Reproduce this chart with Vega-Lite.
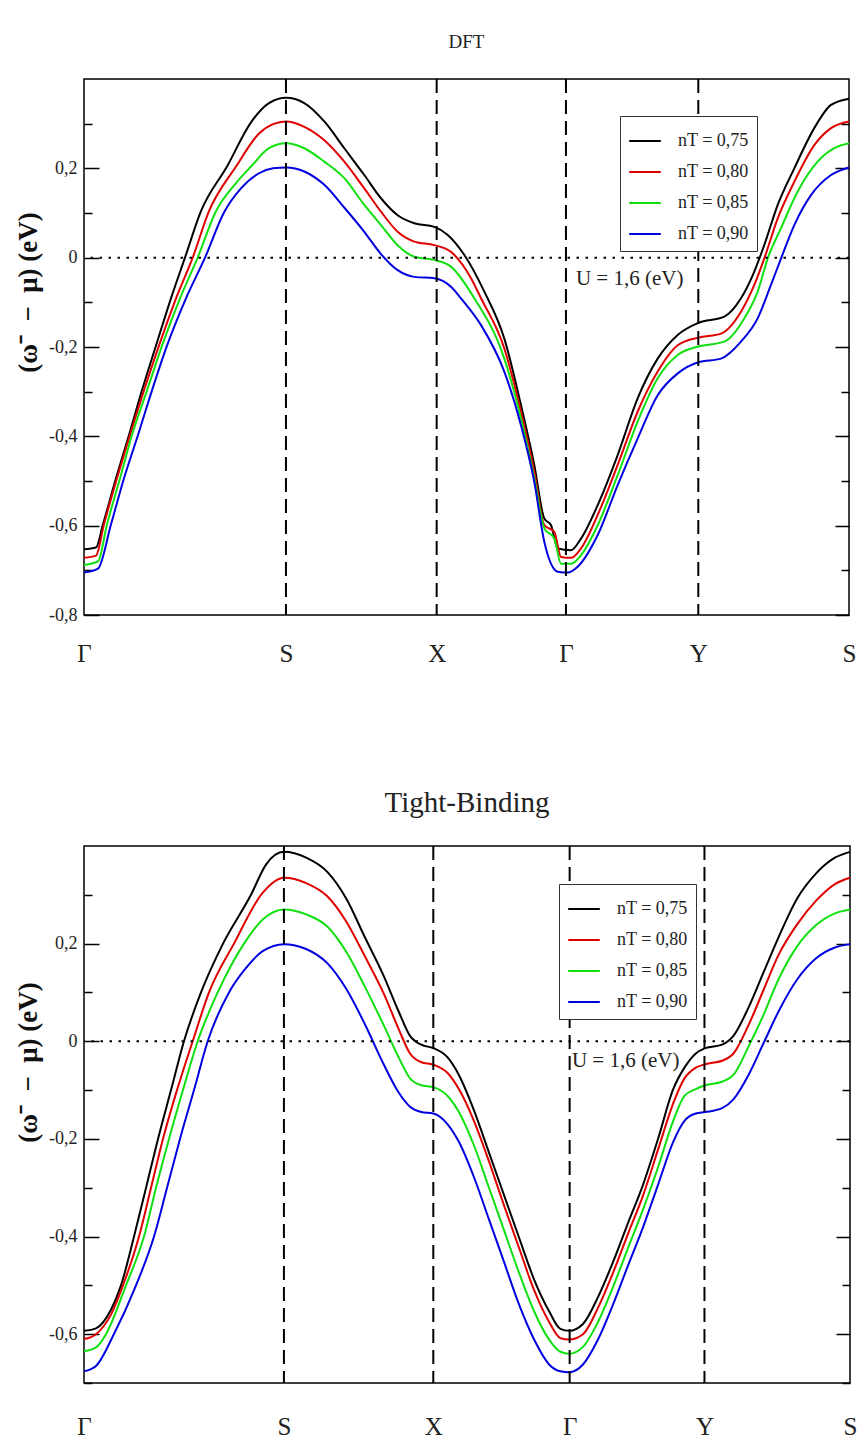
{
"$schema": "https://vega.github.io/schema/vega-lite/v6.json",
"background": "white",
"padding": {"left": 13, "top": 32, "right": 8, "bottom": 0},
"spacing": 121,
"resolve": {"scale": {"color": "independent"}, "legend": {"color": "independent"}},
"config": {
  "font": "Liberation Serif",
  "view": {"stroke": "black", "strokeWidth": 1.5},
  "axis": {"labelFont": "Liberation Serif", "titleFont": "Liberation Serif", "labelColor": "#222", "grid": false, "domain": false},
  "title": {"font": "Liberation Serif", "fontWeight": "normal", "color": "#222", "anchor": "middle"},
  "legend": {"orient": "none", "direction": "vertical", "symbolType": "stroke", "symbolSize": 1000, "symbolStrokeWidth": 2, "labelFont": "Liberation Serif", "labelFontSize": 18, "labelColor": "#222", "strokeColor": "#333", "fillColor": "white", "padding": 8, "rowPadding": 5, "labelOffset": 16}
},
"datasets": {
"curves": [
{"p":"D","n":"0,75","x":0,"y":-0.653},{"p":"D","n":"0,75","x":0.0157,"y":-0.649},{"p":"D","n":"0,75","x":0.0248,"y":-0.597},{"p":"D","n":"0,75","x":0.0418,"y":-0.494},{"p":"D","n":"0,75","x":0.0588,"y":-0.397},{"p":"D","n":"0,75","x":0.0758,"y":-0.297},{"p":"D","n":"0,75","x":0.0941,"y":-0.197},{"p":"D","n":"0,75","x":0.1137,"y":-0.091},{"p":"D","n":"0,75","x":0.132,"y":0},{"p":"D","n":"0,75","x":0.1529,"y":0.104},{"p":"D","n":"0,75","x":0.1869,"y":0.204},{"p":"D","n":"0,75","x":0.2183,"y":0.303},{"p":"D","n":"0,75","x":0.2418,"y":0.346},{"p":"D","n":"0,75","x":0.2641,"y":0.358},{"p":"D","n":"0,75","x":0.288,"y":0.346},{"p":"D","n":"0,75","x":0.3141,"y":0.305},{"p":"D","n":"0,75","x":0.3403,"y":0.245},{"p":"D","n":"0,75","x":0.3664,"y":0.185},{"p":"D","n":"0,75","x":0.3882,"y":0.133},{"p":"D","n":"0,75","x":0.41,"y":0.095},{"p":"D","n":"0,75","x":0.4318,"y":0.077},{"p":"D","n":"0,75","x":0.458,"y":0.069},{"p":"D","n":"0,75","x":0.4755,"y":0.051},{"p":"D","n":"0,75","x":0.4972,"y":0.006},{"p":"D","n":"0,75","x":0.5233,"y":-0.076},{"p":"D","n":"0,75","x":0.5494,"y":-0.181},{"p":"D","n":"0,75","x":0.5712,"y":-0.33},{"p":"D","n":"0,75","x":0.5886,"y":-0.464},{"p":"D","n":"0,75","x":0.6017,"y":-0.584},{"p":"D","n":"0,75","x":0.6105,"y":-0.599},{"p":"D","n":"0,75","x":0.6192,"y":-0.651},{"p":"D","n":"0,75","x":0.6366,"y":-0.655},{"p":"D","n":"0,75","x":0.6497,"y":-0.629},{"p":"D","n":"0,75","x":0.6715,"y":-0.554},{"p":"D","n":"0,75","x":0.6976,"y":-0.442},{"p":"D","n":"0,75","x":0.7237,"y":-0.315},{"p":"D","n":"0,75","x":0.7499,"y":-0.226},{"p":"D","n":"0,75","x":0.7761,"y":-0.173},{"p":"D","n":"0,75","x":0.803,"y":-0.146},{"p":"D","n":"0,75","x":0.837,"y":-0.132},{"p":"D","n":"0,75","x":0.8588,"y":-0.091},{"p":"D","n":"0,75","x":0.8762,"y":-0.031},{"p":"D","n":"0,75","x":0.8892,"y":0.028},{"p":"D","n":"0,75","x":0.9068,"y":0.118},{"p":"D","n":"0,75","x":0.9285,"y":0.2},{"p":"D","n":"0,75","x":0.9546,"y":0.29},{"p":"D","n":"0,75","x":0.9765,"y":0.342},{"p":"D","n":"0,75","x":1,"y":0.356},
{"p":"D","n":"0,80","x":0,"y":-0.672},{"p":"D","n":"0,80","x":0.0157,"y":-0.667},{"p":"D","n":"0,80","x":0.0261,"y":-0.597},{"p":"D","n":"0,80","x":0.0431,"y":-0.494},{"p":"D","n":"0,80","x":0.0601,"y":-0.397},{"p":"D","n":"0,80","x":0.0784,"y":-0.297},{"p":"D","n":"0,80","x":0.098,"y":-0.197},{"p":"D","n":"0,80","x":0.1203,"y":-0.091},{"p":"D","n":"0,80","x":0.1421,"y":0},{"p":"D","n":"0,80","x":0.1634,"y":0.104},{"p":"D","n":"0,80","x":0.1987,"y":0.204},{"p":"D","n":"0,80","x":0.2288,"y":0.278},{"p":"D","n":"0,80","x":0.2471,"y":0.299},{"p":"D","n":"0,80","x":0.2641,"y":0.305},{"p":"D","n":"0,80","x":0.288,"y":0.293},{"p":"D","n":"0,80","x":0.3141,"y":0.263},{"p":"D","n":"0,80","x":0.3403,"y":0.215},{"p":"D","n":"0,80","x":0.3664,"y":0.155},{"p":"D","n":"0,80","x":0.3882,"y":0.103},{"p":"D","n":"0,80","x":0.41,"y":0.058},{"p":"D","n":"0,80","x":0.4318,"y":0.036},{"p":"D","n":"0,80","x":0.458,"y":0.028},{"p":"D","n":"0,80","x":0.4797,"y":0.013},{"p":"D","n":"0,80","x":0.5059,"y":-0.046},{"p":"D","n":"0,80","x":0.519,"y":-0.091},{"p":"D","n":"0,80","x":0.5494,"y":-0.203},{"p":"D","n":"0,80","x":0.5712,"y":-0.345},{"p":"D","n":"0,80","x":0.5886,"y":-0.479},{"p":"D","n":"0,80","x":0.6017,"y":-0.599},{"p":"D","n":"0,80","x":0.6148,"y":-0.614},{"p":"D","n":"0,80","x":0.6235,"y":-0.67},{"p":"D","n":"0,80","x":0.6366,"y":-0.672},{"p":"D","n":"0,80","x":0.6497,"y":-0.651},{"p":"D","n":"0,80","x":0.6715,"y":-0.576},{"p":"D","n":"0,80","x":0.6976,"y":-0.464},{"p":"D","n":"0,80","x":0.7237,"y":-0.345},{"p":"D","n":"0,80","x":0.7499,"y":-0.255},{"p":"D","n":"0,80","x":0.7761,"y":-0.196},{"p":"D","n":"0,80","x":0.803,"y":-0.179},{"p":"D","n":"0,80","x":0.8327,"y":-0.17},{"p":"D","n":"0,80","x":0.8588,"y":-0.121},{"p":"D","n":"0,80","x":0.8762,"y":-0.061},{"p":"D","n":"0,80","x":0.8892,"y":-0.002},{"p":"D","n":"0,80","x":0.9068,"y":0.088},{"p":"D","n":"0,80","x":0.9285,"y":0.17},{"p":"D","n":"0,80","x":0.9546,"y":0.252},{"p":"D","n":"0,80","x":0.9765,"y":0.29},{"p":"D","n":"0,80","x":1,"y":0.305},
{"p":"D","n":"0,85","x":0,"y":-0.688},{"p":"D","n":"0,85","x":0.0183,"y":-0.68},{"p":"D","n":"0,85","x":0.0301,"y":-0.597},{"p":"D","n":"0,85","x":0.0471,"y":-0.494},{"p":"D","n":"0,85","x":0.0627,"y":-0.397},{"p":"D","n":"0,85","x":0.0824,"y":-0.297},{"p":"D","n":"0,85","x":0.102,"y":-0.197},{"p":"D","n":"0,85","x":0.1255,"y":-0.091},{"p":"D","n":"0,85","x":0.1486,"y":0},{"p":"D","n":"0,85","x":0.1725,"y":0.104},{"p":"D","n":"0,85","x":0.1987,"y":0.167},{"p":"D","n":"0,85","x":0.2183,"y":0.204},{"p":"D","n":"0,85","x":0.2418,"y":0.245},{"p":"D","n":"0,85","x":0.2641,"y":0.256},{"p":"D","n":"0,85","x":0.288,"y":0.245},{"p":"D","n":"0,85","x":0.3141,"y":0.215},{"p":"D","n":"0,85","x":0.3403,"y":0.178},{"p":"D","n":"0,85","x":0.3664,"y":0.118},{"p":"D","n":"0,85","x":0.3882,"y":0.073},{"p":"D","n":"0,85","x":0.41,"y":0.028},{"p":"D","n":"0,85","x":0.4318,"y":0.002},{"p":"D","n":"0,85","x":0.458,"y":-0.005},{"p":"D","n":"0,85","x":0.4797,"y":-0.02},{"p":"D","n":"0,85","x":0.5102,"y":-0.091},{"p":"D","n":"0,85","x":0.5494,"y":-0.226},{"p":"D","n":"0,85","x":0.5712,"y":-0.36},{"p":"D","n":"0,85","x":0.5886,"y":-0.494},{"p":"D","n":"0,85","x":0.6017,"y":-0.606},{"p":"D","n":"0,85","x":0.6148,"y":-0.629},{"p":"D","n":"0,85","x":0.6235,"y":-0.685},{"p":"D","n":"0,85","x":0.6366,"y":-0.685},{"p":"D","n":"0,85","x":0.6497,"y":-0.666},{"p":"D","n":"0,85","x":0.6715,"y":-0.599},{"p":"D","n":"0,85","x":0.6976,"y":-0.487},{"p":"D","n":"0,85","x":0.7237,"y":-0.367},{"p":"D","n":"0,85","x":0.7499,"y":-0.27},{"p":"D","n":"0,85","x":0.7761,"y":-0.218},{"p":"D","n":"0,85","x":0.803,"y":-0.199},{"p":"D","n":"0,85","x":0.837,"y":-0.188},{"p":"D","n":"0,85","x":0.8631,"y":-0.136},{"p":"D","n":"0,85","x":0.8806,"y":-0.076},{"p":"D","n":"0,85","x":0.8937,"y":-0.002},{"p":"D","n":"0,85","x":0.9111,"y":0.066},{"p":"D","n":"0,85","x":0.9329,"y":0.148},{"p":"D","n":"0,85","x":0.959,"y":0.215},{"p":"D","n":"0,85","x":0.9808,"y":0.245},{"p":"D","n":"0,85","x":1,"y":0.256},
{"p":"D","n":"0,90","x":0,"y":-0.705},{"p":"D","n":"0,90","x":0.0183,"y":-0.696},{"p":"D","n":"0,90","x":0.0353,"y":-0.597},{"p":"D","n":"0,90","x":0.0523,"y":-0.494},{"p":"D","n":"0,90","x":0.0706,"y":-0.397},{"p":"D","n":"0,90","x":0.0889,"y":-0.297},{"p":"D","n":"0,90","x":0.1085,"y":-0.197},{"p":"D","n":"0,90","x":0.1333,"y":-0.091},{"p":"D","n":"0,90","x":0.1582,"y":0},{"p":"D","n":"0,90","x":0.183,"y":0.101},{"p":"D","n":"0,90","x":0.2052,"y":0.155},{"p":"D","n":"0,90","x":0.2288,"y":0.189},{"p":"D","n":"0,90","x":0.2471,"y":0.2},{"p":"D","n":"0,90","x":0.2641,"y":0.202},{"p":"D","n":"0,90","x":0.288,"y":0.193},{"p":"D","n":"0,90","x":0.3141,"y":0.163},{"p":"D","n":"0,90","x":0.3403,"y":0.112},{"p":"D","n":"0,90","x":0.3664,"y":0.058},{"p":"D","n":"0,90","x":0.3882,"y":0.008},{"p":"D","n":"0,90","x":0.41,"y":-0.028},{"p":"D","n":"0,90","x":0.4318,"y":-0.043},{"p":"D","n":"0,90","x":0.458,"y":-0.046},{"p":"D","n":"0,90","x":0.4797,"y":-0.065},{"p":"D","n":"0,90","x":0.4928,"y":-0.091},{"p":"D","n":"0,90","x":0.519,"y":-0.151},{"p":"D","n":"0,90","x":0.5494,"y":-0.255},{"p":"D","n":"0,90","x":0.5712,"y":-0.375},{"p":"D","n":"0,90","x":0.5886,"y":-0.502},{"p":"D","n":"0,90","x":0.6017,"y":-0.636},{"p":"D","n":"0,90","x":0.6192,"y":-0.703},{"p":"D","n":"0,90","x":0.6323,"y":-0.705},{"p":"D","n":"0,90","x":0.6453,"y":-0.692},{"p":"D","n":"0,90","x":0.6715,"y":-0.621},{"p":"D","n":"0,90","x":0.6976,"y":-0.509},{"p":"D","n":"0,90","x":0.7237,"y":-0.405},{"p":"D","n":"0,90","x":0.7499,"y":-0.308},{"p":"D","n":"0,90","x":0.7761,"y":-0.259},{"p":"D","n":"0,90","x":0.803,"y":-0.234},{"p":"D","n":"0,90","x":0.8327,"y":-0.226},{"p":"D","n":"0,90","x":0.8588,"y":-0.188},{"p":"D","n":"0,90","x":0.8806,"y":-0.136},{"p":"D","n":"0,90","x":0.898,"y":-0.061},{"p":"D","n":"0,90","x":0.9111,"y":-0.002},{"p":"D","n":"0,90","x":0.9285,"y":0.073},{"p":"D","n":"0,90","x":0.9503,"y":0.14},{"p":"D","n":"0,90","x":0.9765,"y":0.185},{"p":"D","n":"0,90","x":1,"y":0.202},
{"p":"T","n":"0,75","x":0,"y":-0.593},{"p":"T","n":"0,75","x":0.0157,"y":-0.588},{"p":"T","n":"0,75","x":0.0352,"y":-0.55},{"p":"T","n":"0,75","x":0.0483,"y":-0.5},{"p":"T","n":"0,75","x":0.0653,"y":-0.4},{"p":"T","n":"0,75","x":0.081,"y":-0.3},{"p":"T","n":"0,75","x":0.0966,"y":-0.2},{"p":"T","n":"0,75","x":0.1136,"y":-0.1},{"p":"T","n":"0,75","x":0.1305,"y":0},{"p":"T","n":"0,75","x":0.1527,"y":0.1},{"p":"T","n":"0,75","x":0.1815,"y":0.2},{"p":"T","n":"0,75","x":0.218,"y":0.3},{"p":"T","n":"0,75","x":0.2376,"y":0.362},{"p":"T","n":"0,75","x":0.2611,"y":0.388},{"p":"T","n":"0,75","x":0.29,"y":0.376},{"p":"T","n":"0,75","x":0.3176,"y":0.347},{"p":"T","n":"0,75","x":0.3421,"y":0.293},{"p":"T","n":"0,75","x":0.3667,"y":0.213},{"p":"T","n":"0,75","x":0.3912,"y":0.134},{"p":"T","n":"0,75","x":0.4108,"y":0.061},{"p":"T","n":"0,75","x":0.4256,"y":0.011},{"p":"T","n":"0,75","x":0.4403,"y":-0.007},{"p":"T","n":"0,75","x":0.456,"y":-0.014},{"p":"T","n":"0,75","x":0.4747,"y":-0.033},{"p":"T","n":"0,75","x":0.4894,"y":-0.069},{"p":"T","n":"0,75","x":0.509,"y":-0.141},{"p":"T","n":"0,75","x":0.5287,"y":-0.228},{"p":"T","n":"0,75","x":0.5483,"y":-0.315},{"p":"T","n":"0,75","x":0.5679,"y":-0.402},{"p":"T","n":"0,75","x":0.5876,"y":-0.488},{"p":"T","n":"0,75","x":0.6072,"y":-0.553},{"p":"T","n":"0,75","x":0.6219,"y":-0.589},{"p":"T","n":"0,75","x":0.6333,"y":-0.593},{"p":"T","n":"0,75","x":0.6514,"y":-0.579},{"p":"T","n":"0,75","x":0.671,"y":-0.524},{"p":"T","n":"0,75","x":0.6907,"y":-0.452},{"p":"T","n":"0,75","x":0.7103,"y":-0.372},{"p":"T","n":"0,75","x":0.73,"y":-0.293},{"p":"T","n":"0,75","x":0.7496,"y":-0.199},{"p":"T","n":"0,75","x":0.7692,"y":-0.098},{"p":"T","n":"0,75","x":0.7839,"y":-0.054},{"p":"T","n":"0,75","x":0.7987,"y":-0.025},{"p":"T","n":"0,75","x":0.811,"y":-0.014},{"p":"T","n":"0,75","x":0.833,"y":-0.007},{"p":"T","n":"0,75","x":0.8478,"y":0.011},{"p":"T","n":"0,75","x":0.8675,"y":0.069},{"p":"T","n":"0,75","x":0.8871,"y":0.141},{"p":"T","n":"0,75","x":0.9067,"y":0.213},{"p":"T","n":"0,75","x":0.9312,"y":0.293},{"p":"T","n":"0,75","x":0.9558,"y":0.344},{"p":"T","n":"0,75","x":0.9803,"y":0.376},{"p":"T","n":"0,75","x":1,"y":0.388},
{"p":"T","n":"0,80","x":0,"y":-0.61},{"p":"T","n":"0,80","x":0.0157,"y":-0.6},{"p":"T","n":"0,80","x":0.0352,"y":-0.56},{"p":"T","n":"0,80","x":0.0509,"y":-0.5},{"p":"T","n":"0,80","x":0.0718,"y":-0.4},{"p":"T","n":"0,80","x":0.0875,"y":-0.3},{"p":"T","n":"0,80","x":0.1031,"y":-0.2},{"p":"T","n":"0,80","x":0.1214,"y":-0.1},{"p":"T","n":"0,80","x":0.1419,"y":0},{"p":"T","n":"0,80","x":0.1632,"y":0.1},{"p":"T","n":"0,80","x":0.1958,"y":0.2},{"p":"T","n":"0,80","x":0.2337,"y":0.305},{"p":"T","n":"0,80","x":0.2611,"y":0.335},{"p":"T","n":"0,80","x":0.29,"y":0.324},{"p":"T","n":"0,80","x":0.3176,"y":0.297},{"p":"T","n":"0,80","x":0.3421,"y":0.246},{"p":"T","n":"0,80","x":0.3667,"y":0.174},{"p":"T","n":"0,80","x":0.3912,"y":0.098},{"p":"T","n":"0,80","x":0.4108,"y":0.025},{"p":"T","n":"0,80","x":0.4256,"y":-0.025},{"p":"T","n":"0,80","x":0.4403,"y":-0.043},{"p":"T","n":"0,80","x":0.456,"y":-0.048},{"p":"T","n":"0,80","x":0.4747,"y":-0.065},{"p":"T","n":"0,80","x":0.4894,"y":-0.098},{"p":"T","n":"0,80","x":0.509,"y":-0.163},{"p":"T","n":"0,80","x":0.5287,"y":-0.246},{"p":"T","n":"0,80","x":0.5483,"y":-0.336},{"p":"T","n":"0,80","x":0.5679,"y":-0.423},{"p":"T","n":"0,80","x":0.5876,"y":-0.51},{"p":"T","n":"0,80","x":0.6072,"y":-0.575},{"p":"T","n":"0,80","x":0.6219,"y":-0.608},{"p":"T","n":"0,80","x":0.6333,"y":-0.611},{"p":"T","n":"0,80","x":0.6514,"y":-0.6},{"p":"T","n":"0,80","x":0.671,"y":-0.546},{"p":"T","n":"0,80","x":0.6907,"y":-0.474},{"p":"T","n":"0,80","x":0.7103,"y":-0.394},{"p":"T","n":"0,80","x":0.73,"y":-0.315},{"p":"T","n":"0,80","x":0.7496,"y":-0.221},{"p":"T","n":"0,80","x":0.7692,"y":-0.127},{"p":"T","n":"0,80","x":0.7839,"y":-0.076},{"p":"T","n":"0,80","x":0.7987,"y":-0.054},{"p":"T","n":"0,80","x":0.811,"y":-0.047},{"p":"T","n":"0,80","x":0.833,"y":-0.04},{"p":"T","n":"0,80","x":0.8478,"y":-0.025},{"p":"T","n":"0,80","x":0.8675,"y":0.033},{"p":"T","n":"0,80","x":0.8871,"y":0.105},{"p":"T","n":"0,80","x":0.9067,"y":0.177},{"p":"T","n":"0,80","x":0.9312,"y":0.24},{"p":"T","n":"0,80","x":0.9558,"y":0.288},{"p":"T","n":"0,80","x":0.9803,"y":0.322},{"p":"T","n":"0,80","x":1,"y":0.335},
{"p":"T","n":"0,85","x":0,"y":-0.635},{"p":"T","n":"0,85","x":0.0157,"y":-0.627},{"p":"T","n":"0,85","x":0.0287,"y":-0.6},{"p":"T","n":"0,85","x":0.0548,"y":-0.5},{"p":"T","n":"0,85","x":0.0783,"y":-0.4},{"p":"T","n":"0,85","x":0.094,"y":-0.3},{"p":"T","n":"0,85","x":0.111,"y":-0.2},{"p":"T","n":"0,85","x":0.1292,"y":-0.1},{"p":"T","n":"0,85","x":0.1484,"y":0},{"p":"T","n":"0,85","x":0.1745,"y":0.1},{"p":"T","n":"0,85","x":0.2089,"y":0.2},{"p":"T","n":"0,85","x":0.2337,"y":0.25},{"p":"T","n":"0,85","x":0.2611,"y":0.27},{"p":"T","n":"0,85","x":0.29,"y":0.26},{"p":"T","n":"0,85","x":0.3176,"y":0.235},{"p":"T","n":"0,85","x":0.3421,"y":0.184},{"p":"T","n":"0,85","x":0.3667,"y":0.112},{"p":"T","n":"0,85","x":0.3912,"y":0.033},{"p":"T","n":"0,85","x":0.4108,"y":-0.033},{"p":"T","n":"0,85","x":0.4256,"y":-0.076},{"p":"T","n":"0,85","x":0.4403,"y":-0.09},{"p":"T","n":"0,85","x":0.456,"y":-0.094},{"p":"T","n":"0,85","x":0.4747,"y":-0.112},{"p":"T","n":"0,85","x":0.4894,"y":-0.145},{"p":"T","n":"0,85","x":0.509,"y":-0.213},{"p":"T","n":"0,85","x":0.5287,"y":-0.3},{"p":"T","n":"0,85","x":0.5483,"y":-0.387},{"p":"T","n":"0,85","x":0.5679,"y":-0.474},{"p":"T","n":"0,85","x":0.5876,"y":-0.553},{"p":"T","n":"0,85","x":0.6072,"y":-0.611},{"p":"T","n":"0,85","x":0.6219,"y":-0.636},{"p":"T","n":"0,85","x":0.6333,"y":-0.64},{"p":"T","n":"0,85","x":0.6514,"y":-0.626},{"p":"T","n":"0,85","x":0.671,"y":-0.575},{"p":"T","n":"0,85","x":0.6907,"y":-0.503},{"p":"T","n":"0,85","x":0.7103,"y":-0.423},{"p":"T","n":"0,85","x":0.73,"y":-0.344},{"p":"T","n":"0,85","x":0.7496,"y":-0.257},{"p":"T","n":"0,85","x":0.7692,"y":-0.163},{"p":"T","n":"0,85","x":0.7839,"y":-0.112},{"p":"T","n":"0,85","x":0.7987,"y":-0.098},{"p":"T","n":"0,85","x":0.811,"y":-0.09},{"p":"T","n":"0,85","x":0.833,"y":-0.083},{"p":"T","n":"0,85","x":0.8478,"y":-0.069},{"p":"T","n":"0,85","x":0.8675,"y":-0.011},{"p":"T","n":"0,85","x":0.8871,"y":0.054},{"p":"T","n":"0,85","x":0.9067,"y":0.127},{"p":"T","n":"0,85","x":0.9312,"y":0.195},{"p":"T","n":"0,85","x":0.9558,"y":0.238},{"p":"T","n":"0,85","x":0.9803,"y":0.262},{"p":"T","n":"0,85","x":1,"y":0.27},
{"p":"T","n":"0,90","x":0,"y":-0.676},{"p":"T","n":"0,90","x":0.0157,"y":-0.665},{"p":"T","n":"0,90","x":0.039,"y":-0.6},{"p":"T","n":"0,90","x":0.0679,"y":-0.5},{"p":"T","n":"0,90","x":0.0914,"y":-0.4},{"p":"T","n":"0,90","x":0.1084,"y":-0.3},{"p":"T","n":"0,90","x":0.1253,"y":-0.2},{"p":"T","n":"0,90","x":0.1436,"y":-0.1},{"p":"T","n":"0,90","x":0.1615,"y":0},{"p":"T","n":"0,90","x":0.1893,"y":0.1},{"p":"T","n":"0,90","x":0.2089,"y":0.145},{"p":"T","n":"0,90","x":0.2337,"y":0.185},{"p":"T","n":"0,90","x":0.2611,"y":0.199},{"p":"T","n":"0,90","x":0.29,"y":0.189},{"p":"T","n":"0,90","x":0.3176,"y":0.16},{"p":"T","n":"0,90","x":0.3421,"y":0.108},{"p":"T","n":"0,90","x":0.3667,"y":0.035},{"p":"T","n":"0,90","x":0.3912,"y":-0.047},{"p":"T","n":"0,90","x":0.4108,"y":-0.105},{"p":"T","n":"0,90","x":0.4256,"y":-0.134},{"p":"T","n":"0,90","x":0.4403,"y":-0.145},{"p":"T","n":"0,90","x":0.456,"y":-0.148},{"p":"T","n":"0,90","x":0.4747,"y":-0.17},{"p":"T","n":"0,90","x":0.4894,"y":-0.206},{"p":"T","n":"0,90","x":0.509,"y":-0.278},{"p":"T","n":"0,90","x":0.5287,"y":-0.365},{"p":"T","n":"0,90","x":0.5483,"y":-0.452},{"p":"T","n":"0,90","x":0.5679,"y":-0.539},{"p":"T","n":"0,90","x":0.5876,"y":-0.611},{"p":"T","n":"0,90","x":0.6072,"y":-0.662},{"p":"T","n":"0,90","x":0.6219,"y":-0.676},{"p":"T","n":"0,90","x":0.6333,"y":-0.678},{"p":"T","n":"0,90","x":0.6514,"y":-0.662},{"p":"T","n":"0,90","x":0.671,"y":-0.611},{"p":"T","n":"0,90","x":0.6907,"y":-0.539},{"p":"T","n":"0,90","x":0.7103,"y":-0.459},{"p":"T","n":"0,90","x":0.73,"y":-0.38},{"p":"T","n":"0,90","x":0.7496,"y":-0.293},{"p":"T","n":"0,90","x":0.7692,"y":-0.206},{"p":"T","n":"0,90","x":0.7839,"y":-0.163},{"p":"T","n":"0,90","x":0.7987,"y":-0.148},{"p":"T","n":"0,90","x":0.811,"y":-0.145},{"p":"T","n":"0,90","x":0.833,"y":-0.137},{"p":"T","n":"0,90","x":0.8478,"y":-0.119},{"p":"T","n":"0,90","x":0.8675,"y":-0.069},{"p":"T","n":"0,90","x":0.8871,"y":-0.004},{"p":"T","n":"0,90","x":0.9067,"y":0.061},{"p":"T","n":"0,90","x":0.9312,"y":0.127},{"p":"T","n":"0,90","x":0.9558,"y":0.17},{"p":"T","n":"0,90","x":0.9803,"y":0.192},{"p":"T","n":"0,90","x":1,"y":0.199}
]
},
"vconcat": [
{
  "width": 765, "height": 536,
  "title": {"text": "DFT", "fontSize": 19, "offset": 26},
  "resolve": {"scale": {"y": "shared"}, "axis": {"y": "independent"}},
  "layer": [
    {"data": {"name": "curves"}, "transform": [{"filter": "datum.p == 'D'"}],
     "mark": {"type": "line", "strokeWidth": 2, "interpolate": "monotone"},
     "encoding": {
       "x": {"field": "x", "type": "quantitative", "title": null, "scale": {"domain": [0, 1], "nice": false},
         "axis": {"title": null, "values": [0, 0.264, 0.461, 0.630, 0.803, 1], "ticks": false, "labelFontSize": 25, "labelPadding": 26, "labelFlush": false, "labelBound": false, "labelOverlap": false,
           "labelExpr": "datum.value < 0.1 ? 'Γ' : datum.value < 0.35 ? 'S' : datum.value < 0.55 ? 'X' : datum.value < 0.7 ? 'Γ' : datum.value < 0.9 ? 'Y' : 'S'"}},
       "y": {"field": "y", "type": "quantitative", "scale": {"domain": [-0.8, 0.4], "nice": false, "zero": false},
         "axis": {"orient": "left", "values": [-0.8,-0.7,-0.6,-0.5,-0.4,-0.3,-0.2,-0.1,0,0.1,0.2,0.3],
           "labelExpr": "abs(round(datum.value*10)) % 2 == 0 ? (datum.value == 0 ? '0' : replace(replace(format(datum.value, '.1f'), '.', ','), '−', '-')) : ''",
           "tickColor": "black", "tickWidth": 1.5, "tickSize": {"condition": {"test": "abs(round(datum.value*10)) % 2 == 0", "value": -15}, "value": -8},
           "labelFontSize": 18, "labelPadding": 22,
           "title": "(ω⁻\u00a0\u00a0−\u00a0\u00a0μ)\u00a0(eV)", "titleFontSize": 27, "titleFontWeight": "bold", "titleColor": "#111", "titleX": -56, "titleY": 213, "titleBaseline": "middle", "titleAlign": "center", "titleAngle": -90}},
       "color": {"field": "n", "type": "nominal", "scale": {"domain": ["0,75", "0,80", "0,85", "0,90"], "range": ["#000000", "#e00000", "#10e010", "#0000e0"]},
         "legend": {"title": null, "legendX": 536, "legendY": 37, "labelExpr": "'nT = ' + datum.label"}}
     }},
    {"data": {"values": [{"k": 0.264}, {"k": 0.461}, {"k": 0.630}, {"k": 0.803}]},
     "mark": {"type": "rule", "strokeDash": [14, 7], "strokeWidth": 2, "color": "black"},
     "encoding": {"x": {"field": "k", "type": "quantitative", "title": null, "scale": {"domain": [0, 1], "nice": false}}}},
    {"data": {"values": [{}]},
     "mark": {"type": "rule", "strokeDash": [2.5, 6.5], "strokeWidth": 2, "color": "black"},
     "encoding": {"y": {"datum": 0, "type": "quantitative", "scale": {"domain": [-0.8, 0.4], "nice": false, "zero": false},
       "axis": {"orient": "right", "labels": false, "title": null, "values": [-0.8,-0.7,-0.6,-0.5,-0.4,-0.3,-0.2,-0.1,0,0.1,0.2,0.3], "tickColor": "black", "tickWidth": 1.5, "tickSize": {"condition": {"test": "abs(round(datum.value*10)) % 2 == 0", "value": -14}, "value": -8}}}}},
    {"data": {"values": [{}]},
     "mark": {"type": "text", "align": "left", "baseline": "middle", "fontSize": 21, "color": "#222"},
     "encoding": {"x": {"datum": 0.643, "type": "quantitative", "title": null}, "y": {"datum": -0.047, "type": "quantitative", "axis": null}, "text": {"value": "U = 1,6 (eV)"}}}
  ]
},
{
  "width": 766, "height": 537,
  "title": {"text": "Tight-Binding", "fontSize": 29, "offset": 27},
  "resolve": {"scale": {"y": "shared"}, "axis": {"y": "independent"}},
  "layer": [
    {"data": {"name": "curves"}, "transform": [{"filter": "datum.p == 'T'"}],
     "mark": {"type": "line", "strokeWidth": 2, "interpolate": "monotone"},
     "encoding": {
       "x": {"field": "x", "type": "quantitative", "title": null, "scale": {"domain": [0, 1], "nice": false},
         "axis": {"title": null, "values": [0, 0.261, 0.456, 0.634, 0.810, 1], "ticks": false, "labelFontSize": 25, "labelPadding": 31, "labelFlush": false, "labelBound": false, "labelOverlap": false,
           "labelExpr": "datum.value < 0.1 ? 'Γ' : datum.value < 0.35 ? 'S' : datum.value < 0.55 ? 'X' : datum.value < 0.7 ? 'Γ' : datum.value < 0.9 ? 'Y' : 'S'"}},
       "y": {"field": "y", "type": "quantitative", "scale": {"domain": [-0.7, 0.4], "nice": false, "zero": false},
         "axis": {"orient": "left", "values": [-0.7,-0.6,-0.5,-0.4,-0.3,-0.2,-0.1,0,0.1,0.2,0.3],
           "labelExpr": "abs(round(datum.value*10)) % 2 == 0 ? (datum.value == 0 ? '0' : replace(replace(format(datum.value, '.1f'), '.', ','), '−', '-')) : ''",
           "tickColor": "black", "tickWidth": 1.5, "tickSize": {"condition": {"test": "abs(round(datum.value*10)) % 2 == 0", "value": -15}, "value": -8},
           "labelFontSize": 18, "labelPadding": 22,
           "title": "(ω⁻\u00a0\u00a0−\u00a0\u00a0μ)\u00a0(eV)", "titleFontSize": 27, "titleFontWeight": "bold", "titleColor": "#111", "titleX": -56, "titleY": 216, "titleBaseline": "middle", "titleAlign": "center", "titleAngle": -90}},
       "color": {"field": "n", "type": "nominal", "scale": {"domain": ["0,75", "0,80", "0,85", "0,90"], "range": ["#000000", "#e00000", "#10e010", "#0000e0"]},
         "legend": {"title": null, "legendX": 475, "legendY": 38, "labelExpr": "'nT = ' + datum.label"}}
     }},
    {"data": {"values": [{"k": 0.261}, {"k": 0.456}, {"k": 0.634}, {"k": 0.810}]},
     "mark": {"type": "rule", "strokeDash": [14, 7], "strokeWidth": 2, "color": "black"},
     "encoding": {"x": {"field": "k", "type": "quantitative", "title": null, "scale": {"domain": [0, 1], "nice": false}}}},
    {"data": {"values": [{}]},
     "mark": {"type": "rule", "strokeDash": [2.5, 6.5], "strokeWidth": 2, "color": "black"},
     "encoding": {"y": {"datum": 0, "type": "quantitative", "scale": {"domain": [-0.7, 0.4], "nice": false, "zero": false},
       "axis": {"orient": "right", "labels": false, "title": null, "values": [-0.7,-0.6,-0.5,-0.4,-0.3,-0.2,-0.1,0,0.1,0.2,0.3], "tickColor": "black", "tickWidth": 1.5, "tickSize": {"condition": {"test": "abs(round(datum.value*10)) % 2 == 0", "value": -14}, "value": -8}}}}},
    {"data": {"values": [{}]},
     "mark": {"type": "text", "align": "left", "baseline": "middle", "fontSize": 21, "color": "#222"},
     "encoding": {"x": {"datum": 0.637, "type": "quantitative", "title": null}, "y": {"datum": -0.04, "type": "quantitative", "axis": null}, "text": {"value": "U = 1,6 (eV)"}}}
  ]
}
]
}
